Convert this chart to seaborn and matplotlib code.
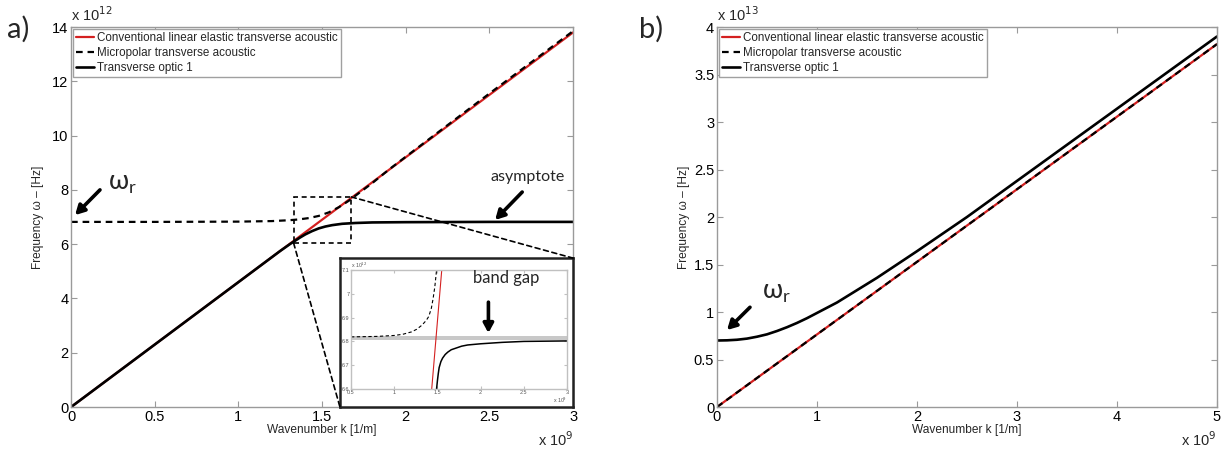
import numpy as np
import seaborn as sns
from matplotlib import pyplot as plt
from matplotlib.patches import Rectangle, ConnectionPatch

# ---- data (k in 1e9 1/m, omega in 1e12 Hz for panel a, 1e13 Hz for panel b) ----
# panel a
k_conv_a = [0.0, 3.0]
w_conv_a = [0.0, 13.8]

k_micro_a = [0.0, 0.5, 1.0, 1.1, 1.2, 1.3, 1.36, 1.42, 1.48, 1.54, 1.6, 1.66, 1.72,
             1.8, 1.9, 2.0, 2.5, 3.0]
w_micro_a = [6.82, 6.82, 6.83, 6.84, 6.85, 6.88, 6.91, 6.96, 7.04, 7.17, 7.36, 7.6, 7.88,
             8.25, 8.75, 9.22, 11.55, 13.85]

k_optic_a = [0.0, 1.25, 1.28, 1.31, 1.34, 1.37, 1.40, 1.44, 1.48, 1.52, 1.56, 1.62,
             1.70, 1.80, 2.0, 2.5, 3.0]
w_optic_a = [0.0, 5.75, 5.88, 6.01, 6.13, 6.25, 6.36, 6.48, 6.58, 6.65, 6.70, 6.75,
             6.78, 6.80, 6.81, 6.82, 6.82]

# inset (zoom near the band gap)
k_conv_in = [1.434, 1.55]
w_conv_in = [6.6, 7.1]
k_micro_in = [0.5, 0.8, 1.0, 1.1, 1.2, 1.26, 1.32, 1.37, 1.40, 1.43, 1.45, 1.47, 1.49]
w_micro_in = [6.819, 6.821, 6.825, 6.830, 6.840, 6.851, 6.868, 6.888, 6.905, 6.94, 6.98, 7.03, 7.1]
k_optic_in = [1.49, 1.50, 1.51, 1.52, 1.54, 1.56, 1.59, 1.62, 1.66, 1.70, 1.78, 1.85,
              2.0, 2.25, 2.5, 3.0]
w_optic_in = [6.60, 6.635, 6.665, 6.69, 6.715, 6.73, 6.745, 6.755, 6.765, 6.77, 6.78,
              6.785, 6.79, 6.796, 6.80, 6.802]
band_gap = [6.806, 6.822]
zoom_box_k = [1.33, 1.675]
zoom_box_w = [6.04, 7.74]

# panel b
k_conv_b = [0.0, 5.0]
w_conv_b = [0.0, 3.82]
k_micro_b = [0.0, 5.0]
w_micro_b = [0.0, 3.82]
k_optic_b = [0.0, 0.1, 0.2, 0.3, 0.4, 0.5, 0.6, 0.7, 0.8, 0.9, 1.0, 1.2, 1.4, 1.6,
             1.8, 2.0, 2.5, 3.0, 3.5, 4.0, 4.5, 5.0]
w_optic_b = [0.700, 0.702, 0.708, 0.720, 0.740, 0.765, 0.800, 0.840, 0.885, 0.935,
             0.99, 1.10, 1.23, 1.36, 1.50, 1.64, 2.00, 2.38, 2.76, 3.14, 3.52, 3.90]

labels = ["Conventional linear elastic transverse acoustic",
          "Micropolar transverse acoustic",
          "Transverse optic 1"]

sns.set_style("ticks")
plt.rcParams['font.family'] = ['Liberation Sans', 'DejaVu Sans']
ANNO_FONT = ['Lato', 'DejaVu Sans']
SPINE = '#9a9a9a'
DASH = (3, 2.2)

fig = plt.figure(figsize=(12.29, 4.54), dpi=100)
ax_a = fig.add_axes([0.0578, 0.1035, 0.4085, 0.837])
ax_b = fig.add_axes([0.5834, 0.1035, 0.4068, 0.837])


def style_axes(ax, fs=10.5, length=4, color=SPINE):
    for s in ax.spines.values():
        s.set_color(color)
        s.set_linewidth(1.0)
    ax.tick_params(direction='in', top=True, right=True, length=length,
                   color=color, labelsize=fs, labelcolor='black', pad=2)


def draw_curves(ax, kc, wc, km, wm, ko, wo, lw=1.6, legend=True):
    sns.lineplot(x=kc, y=wc, ax=ax, color='#d42020', lw=lw,
                 label=labels[0] if legend else None)
    sns.lineplot(x=km, y=wm, ax=ax, color='black', lw=lw, dashes=False,
                 linestyle=(0, DASH), label=labels[1] if legend else None)
    sns.lineplot(x=ko, y=wo, ax=ax, color='black', lw=lw + 0.3,
                 label=labels[2] if legend else None)


def add_legend(ax):
    leg = ax.legend(loc='upper left', fontsize=8.4, frameon=True, fancybox=False,
                    edgecolor='#a0a0a0', framealpha=1, handlelength=1.5,
                    borderaxespad=0.2, borderpad=0.25, labelspacing=0.25,
                    handletextpad=0.3)
    leg.get_frame().set_linewidth(1.0)


def arrow(ax, tail, tip):
    ax.annotate('', xy=tip, xytext=tail,
                arrowprops=dict(arrowstyle='-|>,head_width=0.3,head_length=0.55',
                                lw=2.6, color='black', shrinkA=0, shrinkB=0))


# ---------------- panel a ----------------
draw_curves(ax_a, k_conv_a, w_conv_a, k_micro_a, w_micro_a, k_optic_a, w_optic_a)
ax_a.set_xlim(0, 3)
ax_a.set_ylim(0, 14)
ax_a.set_xticks(np.arange(0, 3.01, 0.5))
ax_a.set_xticklabels(['0', '0.5', '1', '1.5', '2', '2.5', '3'])
ax_a.set_yticks(np.arange(0, 14.1, 2))
style_axes(ax_a)
add_legend(ax_a)
ax_a.set_xlabel('Wavenumber k [1/m]', fontsize=8.6, labelpad=0)
ax_a.set_ylabel('Frequency ω – [Hz]', fontsize=8.6, labelpad=6)
ax_a.text(0.0, 1.008, 'x 10$^{12}$', transform=ax_a.transAxes, fontsize=10.5,
          ha='left', va='bottom')
ax_a.text(1.0, -0.06, 'x 10$^{9}$', transform=ax_a.transAxes, fontsize=10.5,
          ha='right', va='top')
fig.text(0.006, 0.935, 'a)', fontsize=21, family=ANNO_FONT, va='center')

arrow(ax_a, (0.173, 8.0), (0.024, 7.07))
ax_a.text(0.31, 8.22, 'ω$_\\mathregular{r}$', fontsize=19, family=ANNO_FONT,
          ha='center', va='center')
arrow(ax_a, (2.696, 7.92), (2.534, 6.89))
ax_a.text(2.726, 8.47, 'asymptote', fontsize=11.5, family=ANNO_FONT,
          ha='center', va='center')

# zoom box and inset
ax_a.add_patch(Rectangle((zoom_box_k[0], zoom_box_w[0]),
                         zoom_box_k[1] - zoom_box_k[0], zoom_box_w[1] - zoom_box_w[0],
                         fill=False, ls=(0, DASH), lw=1.2, color='black', zorder=5))

ins_frame = fig.add_axes([0.2766, 0.1035, 0.1896, 0.328])
ins_frame.set_xticks([])
ins_frame.set_yticks([])
for s in ins_frame.spines.values():
    s.set_color('#222222')
    s.set_linewidth(1.8)
ins_frame.set_facecolor('white')

ins = fig.add_axes([0.2856, 0.1432, 0.1758, 0.262])
ins.axhspan(band_gap[0], band_gap[1], color='#c8c8c8', lw=0)
draw_curves(ins, k_conv_in, w_conv_in, k_micro_in, w_micro_in, k_optic_in, w_optic_in,
            lw=0.8, legend=False)
ins.set_xlim(0.5, 3)
ins.set_ylim(6.6, 7.1)
ins.set_xticks(np.arange(0.5, 3.01, 0.5))
ins.set_xticklabels(['0.5', '1', '1.5', '2', '2.5', '3'])
ins.set_yticks(np.arange(6.6, 7.11, 0.1))
ins.set_yticklabels(['6.6', '6.7', '6.8', '6.9', '7', '7.1'])
style_axes(ins, fs=4, length=2, color='#c0c0c0')
ins.tick_params(pad=1, labelcolor='#555555')
ins.set_xlabel('')
ins.set_ylabel('')
ins.text(0.0, 1.0, 'x 10$^{12}$', transform=ins.transAxes, fontsize=3.8,
         ha='left', va='bottom', color='#555555')
ins.text(1.0, -0.06, 'x 10$^{9}$', transform=ins.transAxes, fontsize=3.8,
         ha='right', va='top', color='#555555')
ins.text(2.29, 7.065, 'band gap', fontsize=12, family=ANNO_FONT,
         ha='center', va='center')
ins.annotate('', xy=(2.09, 6.835), xytext=(2.09, 6.965),
             arrowprops=dict(arrowstyle='-|>,head_width=0.3,head_length=0.55',
                             lw=2.6, color='black', shrinkA=0, shrinkB=0))

for xy_a, xy_b in [((zoom_box_k[1], zoom_box_w[1]), (1, 1)),
                   ((zoom_box_k[0], zoom_box_w[0]), (0, 0))]:
    con = ConnectionPatch(xyA=xy_a, coordsA=ax_a.transData,
                          xyB=xy_b, coordsB=ins_frame.transAxes,
                          ls=(0, DASH), lw=1.2, color='black', zorder=6)
    fig.add_artist(con)

# ---------------- panel b ----------------
draw_curves(ax_b, k_conv_b, w_conv_b, k_micro_b, w_micro_b, k_optic_b, w_optic_b)
ax_b.set_xlim(0, 5)
ax_b.set_ylim(0, 4)
ax_b.set_xticks(np.arange(0, 5.1, 1))
ax_b.set_yticks(np.arange(0, 4.01, 0.5))
ax_b.set_yticklabels(['0', '0.5', '1', '1.5', '2', '2.5', '3', '3.5', '4'])
style_axes(ax_b)
add_legend(ax_b)
ax_b.set_xlabel('Wavenumber k [1/m]', fontsize=8.6, labelpad=0)
ax_b.set_ylabel('Frequency ω – [Hz]', fontsize=8.6, labelpad=3)
ax_b.text(0.0, 1.008, 'x 10$^{13}$', transform=ax_b.transAxes, fontsize=10.5,
          ha='left', va='bottom')
ax_b.text(1.0, -0.06, 'x 10$^{9}$', transform=ax_b.transAxes, fontsize=10.5,
          ha='right', va='top')
fig.text(0.52, 0.935, 'b)', fontsize=21, family=ANNO_FONT, va='center')

arrow(ax_b, (0.33, 1.05), (0.10, 0.81))
ax_b.text(0.59, 1.21, 'ω$_\\mathregular{r}$', fontsize=19, family=ANNO_FONT,
          ha='center', va='center')

fig.savefig('out.png', dpi=100)
